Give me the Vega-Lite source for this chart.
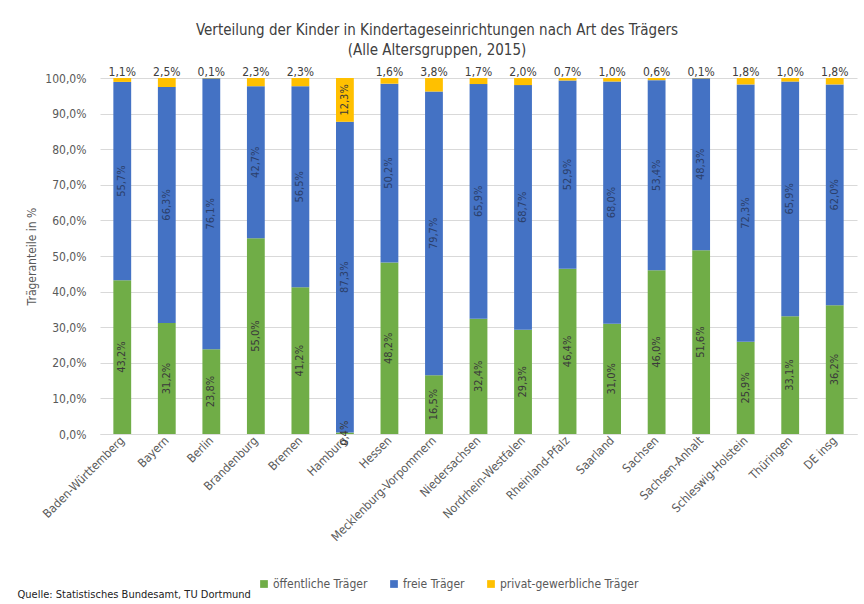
{
  "$schema": "https://vega.github.io/schema/vega-lite/v6.json",
  "width": 757,
  "height": 356,
  "autosize": {"type": "none"},
  "padding": {"left": 100, "top": 78, "right": 7, "bottom": 170},
  "background": "white",
  "config": {
    "locale": {"number": {"decimal": ",", "thousands": ".", "grouping": [3], "currency": ["", " €"]}},
    "view": {"stroke": null},
    "font": "DejaVu Sans Condensed, Roboto",
    "axis": {
      "labelColor": "#595959",
      "titleColor": "#595959",
      "labelFont": "DejaVu Sans Condensed, Roboto",
      "titleFont": "DejaVu Sans Condensed, Roboto",
      "labelFontSize": 12,
      "titleFontSize": 12,
      "titleFontWeight": "normal"
    },
    "axisY": {"tickCount": 11, "labelOverlap": false},
    "legend": {
      "labelFont": "DejaVu Sans Condensed, Roboto",
      "labelFontSize": 12,
      "labelColor": "#595959"
    }
  },
  "title": {
    "text": ["Verteilung der Kinder in Kindertageseinrichtungen nach Art des Trägers", "(Alle Altersgruppen, 2015)"],
    "frame": "bounds",
    "anchor": "middle",
    "font": "DejaVu Sans Condensed, Roboto",
    "fontSize": 15,
    "fontWeight": "normal",
    "color": "#404040",
    "lineHeight": 20,
    "offset": 8
  },
  "data": {
    "values": [
      {"land": "Baden-Württemberg", "traeger": "öffentliche Träger", "anteil": 0.432},
      {"land": "Baden-Württemberg", "traeger": "freie Träger", "anteil": 0.557},
      {"land": "Baden-Württemberg", "traeger": "privat-gewerbliche Träger", "anteil": 0.011},
      {"land": "Bayern", "traeger": "öffentliche Träger", "anteil": 0.312},
      {"land": "Bayern", "traeger": "freie Träger", "anteil": 0.663},
      {"land": "Bayern", "traeger": "privat-gewerbliche Träger", "anteil": 0.025},
      {"land": "Berlin", "traeger": "öffentliche Träger", "anteil": 0.238},
      {"land": "Berlin", "traeger": "freie Träger", "anteil": 0.761},
      {"land": "Berlin", "traeger": "privat-gewerbliche Träger", "anteil": 0.001},
      {"land": "Brandenburg", "traeger": "öffentliche Träger", "anteil": 0.550},
      {"land": "Brandenburg", "traeger": "freie Träger", "anteil": 0.427},
      {"land": "Brandenburg", "traeger": "privat-gewerbliche Träger", "anteil": 0.023},
      {"land": "Bremen", "traeger": "öffentliche Träger", "anteil": 0.412},
      {"land": "Bremen", "traeger": "freie Träger", "anteil": 0.565},
      {"land": "Bremen", "traeger": "privat-gewerbliche Träger", "anteil": 0.023},
      {"land": "Hamburg", "traeger": "öffentliche Träger", "anteil": 0.004},
      {"land": "Hamburg", "traeger": "freie Träger", "anteil": 0.873},
      {"land": "Hamburg", "traeger": "privat-gewerbliche Träger", "anteil": 0.123},
      {"land": "Hessen", "traeger": "öffentliche Träger", "anteil": 0.482},
      {"land": "Hessen", "traeger": "freie Träger", "anteil": 0.502},
      {"land": "Hessen", "traeger": "privat-gewerbliche Träger", "anteil": 0.016},
      {"land": "Mecklenburg-Vorpommern", "traeger": "öffentliche Träger", "anteil": 0.165},
      {"land": "Mecklenburg-Vorpommern", "traeger": "freie Träger", "anteil": 0.797},
      {"land": "Mecklenburg-Vorpommern", "traeger": "privat-gewerbliche Träger", "anteil": 0.038},
      {"land": "Niedersachsen", "traeger": "öffentliche Träger", "anteil": 0.324},
      {"land": "Niedersachsen", "traeger": "freie Träger", "anteil": 0.659},
      {"land": "Niedersachsen", "traeger": "privat-gewerbliche Träger", "anteil": 0.017},
      {"land": "Nordrhein-Westfalen", "traeger": "öffentliche Träger", "anteil": 0.293},
      {"land": "Nordrhein-Westfalen", "traeger": "freie Träger", "anteil": 0.687},
      {"land": "Nordrhein-Westfalen", "traeger": "privat-gewerbliche Träger", "anteil": 0.020},
      {"land": "Rheinland-Pfalz", "traeger": "öffentliche Träger", "anteil": 0.464},
      {"land": "Rheinland-Pfalz", "traeger": "freie Träger", "anteil": 0.529},
      {"land": "Rheinland-Pfalz", "traeger": "privat-gewerbliche Träger", "anteil": 0.007},
      {"land": "Saarland", "traeger": "öffentliche Träger", "anteil": 0.310},
      {"land": "Saarland", "traeger": "freie Träger", "anteil": 0.680},
      {"land": "Saarland", "traeger": "privat-gewerbliche Träger", "anteil": 0.010},
      {"land": "Sachsen", "traeger": "öffentliche Träger", "anteil": 0.460},
      {"land": "Sachsen", "traeger": "freie Träger", "anteil": 0.534},
      {"land": "Sachsen", "traeger": "privat-gewerbliche Träger", "anteil": 0.006},
      {"land": "Sachsen-Anhalt", "traeger": "öffentliche Träger", "anteil": 0.516},
      {"land": "Sachsen-Anhalt", "traeger": "freie Träger", "anteil": 0.483},
      {"land": "Sachsen-Anhalt", "traeger": "privat-gewerbliche Träger", "anteil": 0.001},
      {"land": "Schleswig-Holstein", "traeger": "öffentliche Träger", "anteil": 0.259},
      {"land": "Schleswig-Holstein", "traeger": "freie Träger", "anteil": 0.723},
      {"land": "Schleswig-Holstein", "traeger": "privat-gewerbliche Träger", "anteil": 0.018},
      {"land": "Thüringen", "traeger": "öffentliche Träger", "anteil": 0.331},
      {"land": "Thüringen", "traeger": "freie Träger", "anteil": 0.659},
      {"land": "Thüringen", "traeger": "privat-gewerbliche Träger", "anteil": 0.010},
      {"land": "DE insg", "traeger": "öffentliche Träger", "anteil": 0.362},
      {"land": "DE insg", "traeger": "freie Träger", "anteil": 0.620},
      {"land": "DE insg", "traeger": "privat-gewerbliche Träger", "anteil": 0.018}
    ]
  },
  "transform": [
    {"calculate": "indexof(['öffentliche Träger', 'freie Träger', 'privat-gewerbliche Träger'], datum.traeger)", "as": "rang"}
  ],
  "encoding": {
    "x": {
      "field": "land",
      "type": "nominal",
      "sort": null,
      "scale": {"paddingInner": 0.6, "paddingOuter": 0.3},
      "axis": {
        "labelAngle": -45,
        "labelAlign": "right",
        "labelBaseline": "middle",
        "labelPadding": 4,
        "ticks": false,
        "domainColor": "#d9d9d9",
        "title": "Quelle:  Statistisches Bundesamt, TU Dortmund",
        "titleAnchor": "start",
        "titleAlign": "left",
        "titleBaseline": "alphabetic",
        "titleX": -83,
        "titleY": 163,
        "titleColor": "#222222",
        "titleFontSize": 11
      }
    },
    "y": {
      "field": "anteil",
      "type": "quantitative",
      "stack": "zero",
      "scale": {"domain": [0, 1]},
      "axis": {
        "title": "Trägeranteile in %",
        "format": ".1%",
        "values": [0, 0.1, 0.2, 0.3, 0.4, 0.5, 0.6, 0.7, 0.8, 0.9, 1],
        "tickCount": 11,
        "labelOverlap": false,
        "domain": false,
        "ticks": false,
        "labelPadding": 14,
        "titlePadding": 6,
        "gridColor": "#d9d9d9"
      }
    },
    "order": {"field": "rang", "type": "quantitative"}
  },
  "layer": [
    {
      "mark": {"type": "bar"},
      "encoding": {
        "color": {
          "field": "traeger",
          "type": "nominal",
          "scale": {
            "domain": ["öffentliche Träger", "freie Träger", "privat-gewerbliche Träger"],
            "range": ["#70ad47", "#4472c4", "#ffc000"]
          },
          "legend": {
            "title": null,
            "orient": "none",
            "direction": "horizontal",
            "legendX": 158,
            "legendY": 500,
            "symbolType": "square",
            "symbolSize": 60,
            "symbolStrokeWidth": 0,
            "columnPadding": 20,
            "labelOffset": 3
          }
        }
      }
    },
    {
      "mark": {"type": "text", "angle": 270, "fontSize": 11, "baseline": "middle", "align": "center"},
      "encoding": {
        "y": {
          "field": "anteil",
          "type": "quantitative",
          "stack": "zero",
          "bandPosition": 0.5
        },
        "text": {
          "condition": {"test": "datum.traeger === 'privat-gewerbliche Träger' && datum.anteil < 0.05", "value": ""},
          "field": "anteil",
          "type": "quantitative",
          "format": ".1%"
        },
        "color": {
          "condition": {"test": "datum.traeger === 'freie Träger'", "value": "#2b3f6b"},
          "value": "#3a3a3a"
        }
      }
    },
    {
      "transform": [
        {"filter": "datum.traeger === 'privat-gewerbliche Träger' && datum.anteil < 0.05"}
      ],
      "mark": {"type": "text", "fontSize": 12, "baseline": "middle", "dy": -6, "color": "#404040"},
      "encoding": {
        "y": {"datum": 1, "type": "quantitative"},
        "order": null,
        "text": {"field": "anteil", "type": "quantitative", "format": ".1%"}
      }
    }
  ]
}
